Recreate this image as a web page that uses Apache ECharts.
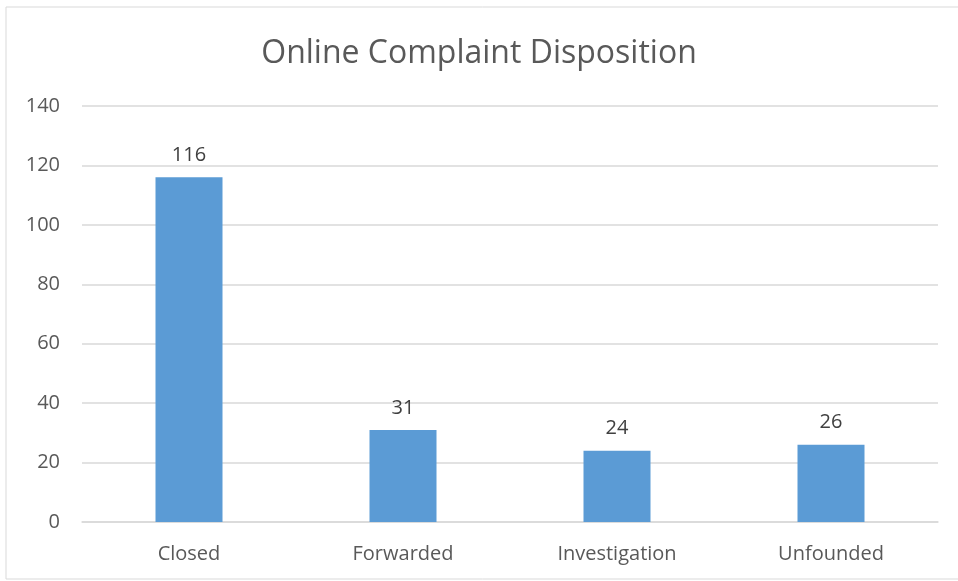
<!DOCTYPE html>
<html>
<head>
<meta charset="utf-8">
<script src="https://cdn.jsdelivr.net/npm/echarts@6/dist/echarts.min.js"></script>
<style>
  html, body { margin: 0; padding: 0; background: #fff; }
  #chart { width: 958px; height: 581px; }
</style>
</head>
<body>
<div id="chart"></div>
<script>
const categories = ['Closed', 'Forwarded', 'Investigation', 'Unfounded']
const complaints = [116, 31, 24, 26]
const yTicks = { min: 0, max: 140, interval: 20 }

const textFont = '"Open Sans", "Noto Sans", sans-serif'

const chart = echarts.init(document.getElementById('chart'))
chart.setOption({
  backgroundColor: '#fff',
  animation: false,
  // thin frame like the exported chart area
  graphic: [{
    type: 'rect',
    shape: { x: 6, y: 7, width: 960, height: 572 },
    style: { fill: 'none', stroke: '#d9d9d9', lineWidth: 1 },
    silent: true
  }],
  title: {
    text: 'Online Complaint Disposition',
    left: 'center',
    top: 33,
    textStyle: {
      color: '#595959',
      fontSize: 32,
      fontWeight: 'normal',
      fontFamily: textFont
    }
  },
  grid: {
    top: 106,
    left: 82,
    right: 20,
    bottom: 59
  },
  xAxis: {
    type: 'category',
    data: categories,
    axisTick: { show: false },
    axisLine: { show: true, lineStyle: { color: '#d9d9d9', width: 1.5 } },
    axisLabel: {
      color: '#595959',
      fontSize: 20,
      margin: 22,
      fontFamily: textFont
    }
  },
  yAxis: {
    type: 'value',
    min: yTicks.min,
    max: yTicks.max,
    interval: yTicks.interval,
    axisLine: { show: false },
    axisTick: { show: false },
    splitLine: { lineStyle: { color: '#d9d9d9', width: 1.5 } },
    axisLabel: {
      color: '#595959',
      fontSize: 20,
      margin: 22,
      fontFamily: textFont
    }
  },
  series: [{
    type: 'bar',
    data: complaints,
    barWidth: 67,
    itemStyle: { color: '#5b9bd5' },
    label: {
      show: true,
      position: 'top',
      distance: 12,
      color: '#404040',
      fontSize: 20,
      fontFamily: textFont
    }
  }]
})
</script>
</body>
</html>
